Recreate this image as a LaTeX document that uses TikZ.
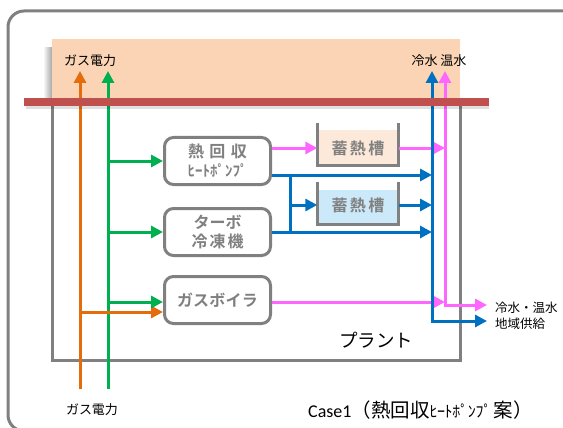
\documentclass[tikz,border=0pt]{standalone}
\usepackage{fontspec}
\setmainfont{Noto Sans CJK JP}
\newfontfamily\jp{Noto Sans CJK JP}
\newfontfamily\jpbox{Noto Sans CJK JP Bold}
\newfontfamily\latincal{Carlito}
\usetikzlibrary{arrows.meta}
\definecolor{cgray}{HTML}{808080}
\definecolor{cpeach}{HTML}{FAD4B4}
\definecolor{cred}{HTML}{C0504D}
\definecolor{corange}{HTML}{E46C0A}
\definecolor{cgreen}{HTML}{00B050}
\definecolor{cblue}{HTML}{0070C0}
\definecolor{cpink}{HTML}{FF66FF}
\definecolor{ctankA}{HTML}{FDE9D9}
\definecolor{ctankB}{HTML}{CCE9FA}
\newcommand{\spr}[2]{\makebox[#1][s]{#2}}
\tikzset{
  arr/.style={line width=3pt,-{Triangle[length=12pt,width=12pt]}},
  orangearr/.style={arr,draw=corange,color=corange},
  greenarr/.style={arr,draw=cgreen,color=cgreen},
  bluearr/.style={arr,draw=cblue,color=cblue},
  pinkarr/.style={arr,draw=cpink,color=cpink},
  procbox/.style={draw=cgray,line width=3pt,rounded corners=9pt,fill=white,
    minimum width=106pt,minimum height=47pt,align=center,text=cgray,
    font=\jpbox\fontsize{16}{20}\selectfont},
  tanklbl/.style={minimum width=81pt,minimum height=20pt,inner sep=0pt,text=cgray,
    font=\jpbox\fontsize{16}{18}\selectfont},
  lbl/.style={inner sep=0pt,font=\jp\fontsize{13}{15}\selectfont},
}
\begin{document}
\begin{tikzpicture}[x=1pt,y=-1pt]
\useasboundingbox (0,0) rectangle (563,428);
\clip (0,0) rectangle (563,428);
% outer frame (only the left corners fall inside the picture)
\draw[cgray,line width=3pt,rounded corners=16pt] (620,11) -- (8,11) -- (8,431) -- (620,431);
% peach header with soft shadow
\shade[left color=white,right color=black!35] (43,48) rectangle (52,100);
\fill[cpeach] (52,39) rectangle (460,100);
% plant box
\draw[cgray,line width=3pt] (52,100) -- (52,360) -- (460,360) -- (460,100);
% tanks
\fill[ctankA] (317,130) rectangle (398,165);
\draw[cgray,line width=3pt] (317,123) -- (317,165) -- (398,165) -- (398,123);
\fill[ctankB] (317,190) rectangle (398,224);
\draw[cgray,line width=3pt] (317,182) -- (317,224) -- (398,224) -- (398,182);
\node[tanklbl] (t1) at (358,148) {\spr{53pt}{蓄\hfil 熱\hfil 槽}};
\node[tanklbl] (t2) at (358,205) {\spr{53pt}{蓄\hfil 熱\hfil 槽}};
% process boxes
\node[procbox] (b1) at (217.5,161) {\spr{59pt}{熱\hfil 回\hfil 収}\\[-1pt]{\fontsize{15}{18}\selectfont\spr{60pt}{ﾋ\hss ｰ\hss ﾄ\hss ﾎﾟ\hss ﾝ\hss ﾌﾟ}}};
\node[procbox] (b2) at (217.5,232) {\spr{48pt}{タ\hfil ー\hfil ボ}\\[-1pt]\spr{52pt}{冷\hfil 凍\hfil 機}};
\node[procbox] (b3) at (217.5,300) {\spr{81pt}{ガ\hfil ス\hfil ボ\hfil イ\hfil ラ}};
% coordinates
\coordinate (otop) at (80,71);
\coordinate (obot) at (80,389);
\coordinate (gtop) at (108,71);
\coordinate (gbot) at (108,389);
\coordinate (btop) at (432,71);
\coordinate (bbot) at (432,321);
\coordinate (bout) at (487,321);
\coordinate (ptop) at (445,71);
\coordinate (pbot) at (445,305);
\coordinate (pout) at (487,305);
\coordinate (j1) at (290,175);
\coordinate (j2) at (290,232);
% supply lines
\draw[orangearr] (obot) -- (otop);
\draw[greenarr] (gbot) -- (gtop);
\draw[orangearr] ([yshift=-12pt]b3.west -| obot) -- ([yshift=-12pt]b3.west);
\draw[greenarr] (gbot |- b1.west) -- (b1.west);
\draw[greenarr] (gbot |- b2.west) -- (b2.west);
\draw[greenarr] ([yshift=-2pt]b3.west -| gbot) -- ([yshift=-2pt]b3.west);
% blue network
\draw[cblue,line width=3pt] (j1) -- (j2);
\draw[bluearr] (j1 -| b1.east) -- (j1 -| btop);
\draw[bluearr] (b2.east) -- (b2.east -| btop);
\draw[bluearr] (j1 |- t2.west) -- (t2.west);
\draw[bluearr] (t2.east) -- (t2.east -| btop);
% pink flows
\draw[pinkarr] (t1.west -| b1.east) -- (t1.west);
\draw[pinkarr] (t1.east) -- (t1.east -| ptop);
\draw[pinkarr] ([yshift=-2pt]b3.east) -- ([yshift=-2pt]b3.east -| ptop);
% outlet verticals
\draw[cblue,line width=3pt,{Triangle[length=12pt,width=12pt]}-{Triangle[length=12pt,width=12pt]}] (btop) -- (bbot) -- (bout);
\draw[cpink,line width=3pt,{Triangle[length=12pt,width=12pt]}-{Triangle[length=12pt,width=12pt]}] (ptop) -- (pbot) -- (pout);
% red bar with soft shadow
\fill[black,opacity=0.12] (26,106) rectangle (489,109);
\fill[cred] (24,98) rectangle (489,106);
% labels
\node[lbl] (lgasin) at (90,61) {ガス電力};
\node[lbl] (lwater) at (439,61) {冷水 温水};
\node[lbl,anchor=west,font=\jp\fontsize{12.5}{15}\selectfont] (lout1) at (495,308) {冷水・温水};
\node[lbl,anchor=west,font=\jp\fontsize{12.5}{15}\selectfont] (lout2) at (495,324) {地域供給};
\node[lbl] (lgasbot) at (92,410) {ガス電力};
\node[inner sep=0pt,font=\jp\fontsize{18.5}{20}\selectfont] (lplant) at (376,340) {プラント};
\node[inner sep=0pt,anchor=west,font=\jp\fontsize{19.5}{22}\selectfont] (lcase) at (308,410) {{\latincal\fontsize{18}{22}\selectfont Case1}（熱回収{\fontsize{16}{22}\selectfont\spr{62pt}{ﾋ\hss ｰ\hss ﾄ\hss ﾎﾟ\hss ﾝ\hss ﾌﾟ}}\kern2pt 案）};
\end{tikzpicture}
\end{document}
